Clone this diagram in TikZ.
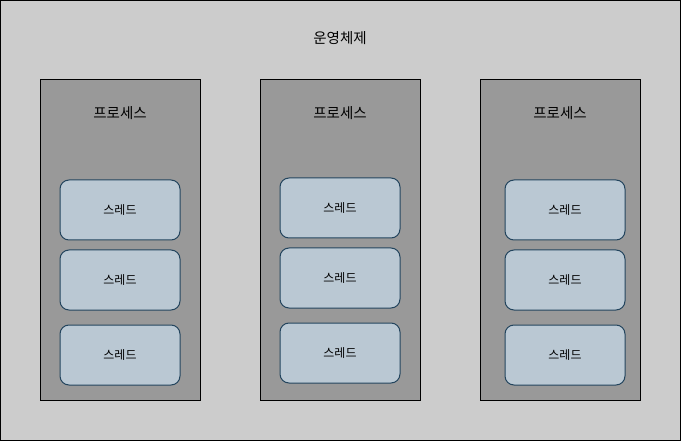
\documentclass[tikz,border=0pt]{standalone}
\usepackage{fontspec}
\newfontfamily\kr{Noto Sans CJK KR}
\definecolor{osgray}{HTML}{CCCCCC}
\definecolor{procgray}{HTML}{999999}
\definecolor{threadfill}{HTML}{BAC8D3}
\definecolor{threadline}{HTML}{23445D}

\begin{document}
\begin{tikzpicture}[x=1pt, y=-1pt, line width=1pt,
                    procbox/.style={draw=black, fill=procgray, minimum width=160pt,
                                    minimum height=320pt, inner sep=0pt},
                    threadbox/.style={draw=threadline, fill=threadfill, rounded corners=9pt,
                                      minimum width=120pt, minimum height=60pt, inner sep=0pt,
                                      font=\kr\fontsize{12}{14}\selectfont},
                    lbl/.style={font=\kr\fontsize{14.5}{17}\selectfont, inner sep=0pt}
                   ]
\useasboundingbox (0,0) rectangle (681,441);
\fill [osgray, draw=black] (0.5,0.5) rectangle (680.5,440.5);
\node [lbl] (os) at (340,38) {운영체제};

\foreach \i/\px/\tx/\dy in {1/120/120/0, 2/340/340/-2, 3/560/565/0}{
    \node [procbox] (proc\i) at (\px,240) {};
    \node [lbl] (plabel\i) at (\px,113) {프로세스};
    \node [threadbox] (thread\i a) at (\tx,210+\dy) {스레드};
    \node [threadbox] (thread\i b) at (\tx,280+\dy) {스레드};
    \node [threadbox] (thread\i c) at (\tx,355+\dy) {스레드};
}
\end{tikzpicture}
\end{document}
